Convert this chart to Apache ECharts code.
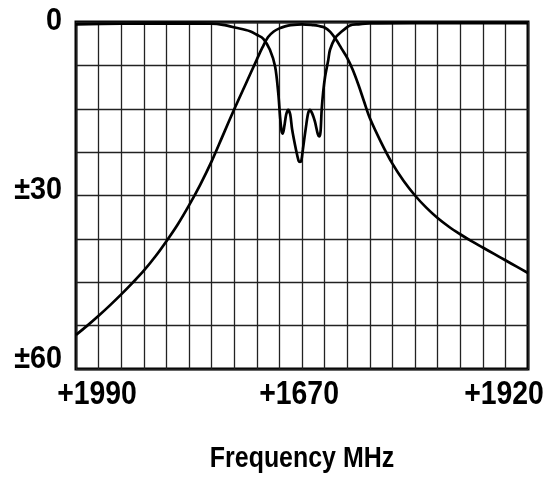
<!DOCTYPE html>
<html>
<head>
<meta charset="utf-8">
<script src="https://cdn.jsdelivr.net/npm/echarts@6/dist/echarts.min.js"></script>
<style>
html,body{margin:0;padding:0;background:#fff;}
#chart{width:548px;height:483px;}
</style>
</head>
<body>
<div id="chart"></div>
<script>
// Frequency position (grid units 0..20) and attenuation (dB)
var passbandX = [0, 0.5, 1, 1.5, 2, 2.5, 3, 3.5, 4, 4.5, 5, 5.5, 6, 6.5, 7, 7.5, 8, 8.25, 8.5, 8.75, 9, 9.25, 9.5, 10, 10.5, 10.75, 11, 11.25, 11.5, 11.75, 12, 12.25, 12.5, 12.75, 13, 13.5, 14, 14.5, 15, 15.5, 16, 16.5, 17, 17.5, 18, 18.5, 19, 19.5, 20];
var passbandY = [-54.1, -52.5, -50.8, -49.0, -47.1, -45.1, -43.0, -40.6, -37.9, -35.0, -31.7, -28.1, -24.1, -19.6, -15.1, -10.8, -6.5, -4.4, -2.6, -1.65, -1.1, -0.75, -0.55, -0.4, -0.55, -0.7, -0.95, -1.7, -3.0, -4.6, -6.2, -8.3, -10.9, -13.8, -16.6, -20.8, -24.5, -27.5, -30.0, -32.1, -33.9, -35.4, -36.7, -37.9, -39.0, -40.1, -41.2, -42.3, -43.4];

var returnX = [0, 2, 4, 6, 6.5, 7.08, 7.70, 8.0, 8.29, 8.58, 8.81, 8.95, 9.03, 9.10, 9.15, 9.22, 9.30, 9.39, 9.48, 9.56, 9.73, 9.85, 9.91, 9.97, 10.04, 10.18, 10.27, 10.35, 10.45, 10.57, 10.70, 10.76, 10.82, 10.87, 10.94, 11.02, 11.16, 11.24, 11.46, 11.68, 12.12, 12.5, 13.0, 15, 20];
var returnY = [-0.4, -0.3, -0.25, -0.3, -0.5, -1.0, -1.6, -2.2, -2.9, -4.8, -7.7, -12.3, -16.4, -19.0, -19.3, -18.0, -16.0, -15.2, -16.0, -18.5, -22.0, -24.0, -24.2, -24.0, -22.0, -18.0, -15.8, -15.2, -15.8, -17.2, -19.4, -19.8, -19.0, -15.2, -12.0, -9.5, -6.6, -4.8, -2.8, -1.9, -0.6, -0.4, -0.25, -0.2, -0.2];

var xTickLabels = ['+1990', '+1670', '+1920'];
var xTickPos = [0.93, 9.87, 18.94];
var yTickValues = [0, -30, -60];
var yTickLabels = ['0', '±30', '±60'];
var xAxisTitle = 'Frequency MHz';

function zip(xs, ys) { return xs.map(function (x, i) { return [x, ys[i]]; }); }

var FONT = '"Liberation Sans", Arial, sans-serif';

var chart = echarts.init(document.getElementById('chart'), null, { renderer: 'canvas' });
chart.setOption({
  backgroundColor: '#fff',
  animation: false,
  grid: {
    left: 76, top: 22, right: 20, bottom: 114,
    containLabel: false, outerBoundsMode: 'none',
    show: true, borderColor: '#000', borderWidth: 3, backgroundColor: 'transparent'
  },
  xAxis: {
    type: 'value', min: 0, max: 20, interval: 1,
    axisLine: { show: false }, axisTick: { show: false }, axisLabel: { show: false },
    splitLine: { show: true, lineStyle: { color: '#222', width: 1.3 } }
  },
  yAxis: {
    type: 'value', min: -60, max: 0, interval: 7.5,
    axisLine: { show: false }, axisTick: { show: false }, axisLabel: { show: false },
    splitLine: { show: true, lineStyle: { color: '#222', width: 1.3 } }
  },
  series: [
    {
      type: 'line', data: zip(passbandX, passbandY), smooth: 0.35, symbol: 'none',
      lineStyle: { color: '#000', width: 2.7 }, z: 5
    },
    {
      type: 'line', data: zip(returnX, returnY), smooth: 0.3, symbol: 'none',
      lineStyle: { color: '#000', width: 2.7 }, z: 5
    }
  ]
});

// Condensed-look tick labels placed through the axes' own scales
var elements = [];
var yShift = [-0.5, -5.5, -10];
yTickValues.forEach(function (v, i) {
  var p = chart.convertToPixel({ gridIndex: 0 }, [0, v]);
  elements.push({
    type: 'text', x: p[0] - 14, y: p[1] + yShift[i], scaleX: 0.9, z: 10,
    style: { text: yTickLabels[i], font: 'bold 32px ' + FONT, fill: '#000', textAlign: 'right', textVerticalAlign: 'middle' }
  });
});
var gridBottom = chart.convertToPixel({ gridIndex: 0 }, [0, -60])[1];
xTickPos.forEach(function (v, i) {
  var p = chart.convertToPixel({ gridIndex: 0 }, [v, -60]);
  elements.push({
    type: 'text', x: p[0], y: gridBottom + 26, scaleX: 0.86, z: 10,
    style: { text: xTickLabels[i], font: 'bold 33px ' + FONT, fill: '#000', textAlign: 'center', textVerticalAlign: 'middle' }
  });
});
var midX = (chart.convertToPixel({ gridIndex: 0 }, [0, 0])[0] + chart.convertToPixel({ gridIndex: 0 }, [20, 0])[0]) / 2;
elements.push({
  type: 'text', x: midX, y: gridBottom + 90, scaleX: 0.86, z: 10,
  style: { text: xAxisTitle, font: 'bold 29px ' + FONT, fill: '#000', textAlign: 'center', textVerticalAlign: 'middle' }
});
chart.setOption({ graphic: { elements: elements } });
</script>
</body>
</html>
